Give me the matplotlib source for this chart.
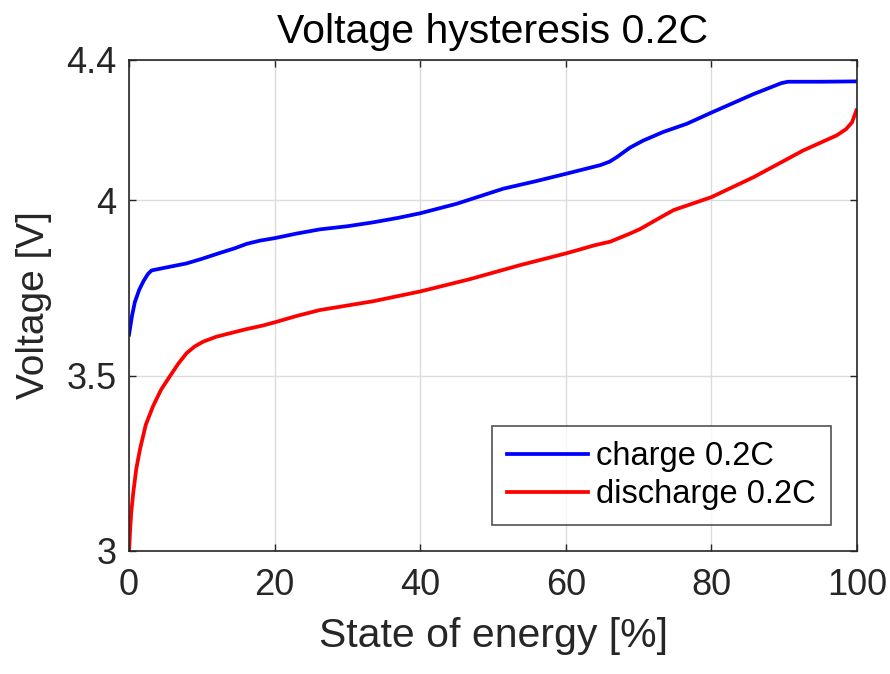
import matplotlib
matplotlib.use("Agg")
import matplotlib.pyplot as plt

plt.rcParams['font.family'] = ['Liberation Sans', 'DejaVu Sans']

soe_charge = [0, 0.4, 0.8, 1.4, 2.0, 2.6, 3.1, 5.0, 7.9, 10.0, 12.5, 14.5, 16.2, 18.0, 20,
              23.0, 26.2, 30.0, 33.5, 37.0, 40, 45, 51.4, 56.0, 60.1, 64.7,
              66.0, 67, 68.8, 70.6, 73.4, 76.6, 80, 85.8, 89.6, 90.5, 95, 100]
v_charge = [3.617, 3.67, 3.71, 3.745, 3.77, 3.79, 3.80, 3.808, 3.82, 3.833, 3.85, 3.863, 3.876,
            3.885, 3.892, 3.905, 3.917, 3.926, 3.937, 3.95, 3.963, 3.99, 4.033, 4.055,
            4.076, 4.10, 4.11, 4.123, 4.150, 4.17, 4.195, 4.218, 4.25, 4.303, 4.334, 4.338,
            4.338, 4.339]

soe_discharge = [0, 0.15, 0.3, 0.6, 1.0, 1.5, 2.3, 3.3, 4.4, 5.6, 6.8, 7.9, 9.0, 10.2, 12.0,
                 13.9, 16.0, 18.4, 20, 23.0, 26.2, 30.0, 33.5, 40, 46.8,
                 53.7, 60.1, 64.0, 66.1, 68.8, 70.2, 72.9, 74.8, 80, 85.8, 92.6, 97.2, 98.5,
                 99.3, 99.9]
v_discharge = [3.0, 3.06, 3.11, 3.17, 3.235, 3.29, 3.36, 3.413, 3.46, 3.498, 3.535, 3.564,
               3.583, 3.597, 3.611, 3.621, 3.632, 3.643, 3.652, 3.67, 3.687, 3.700, 3.712,
               3.74, 3.775, 3.815, 3.849, 3.872, 3.882, 3.905, 3.918, 3.950, 3.972, 4.009,
               4.066, 4.142, 4.185, 4.203, 4.222, 4.256]

xticks = [0, 20, 40, 60, 80, 100]
yticks = [3, 3.5, 4, 4.4]
ytick_labels = ['3', '3.5', '4', '4.4']

fig = plt.figure(figsize=(8.9, 6.74), dpi=100)
ax = fig.add_axes([0.145, 0.1825, 0.818, 0.7285])

ax.plot(soe_charge, v_charge, color='#0000ff', lw=2.7, label='charge 0.2C',
        solid_joinstyle='round')
ax.plot(soe_discharge, v_discharge, color='#ff0000', lw=2.7, label='discharge 0.2C',
        solid_joinstyle='round')

ax.set_xlim(0, 100)
ax.set_ylim(3, 4.4)
ax.set_xticks(xticks)
ax.set_yticks(yticks)
ax.set_yticklabels(ytick_labels)
ax.grid(True, color='#dcdcdc', lw=1)
ax.set_axisbelow(True)
ax.tick_params(direction='in', top=True, right=True, labelsize=26, colors='#262626',
               length=5, width=1)
ax.tick_params(axis='x', pad=12)
ax.tick_params(axis='y', pad=9)
for s in ax.spines.values():
    s.set_color('#262626')
    s.set_linewidth(1.2)

ax.set_title('Voltage hysteresis 0.2C', fontsize=29.5, color='#000000', pad=12)
ax.set_xlabel('State of energy [%]', fontsize=29.5, color='#262626', labelpad=10)
ax.set_ylabel('Voltage [V]', fontsize=28, color='#262626', labelpad=10)

leg = ax.legend(loc='lower right', bbox_to_anchor=(0.964, 0.053), fontsize=23.5,
                frameon=True, fancybox=False, edgecolor='#262626', handlelength=2.5,
                borderpad=0.45, labelspacing=0.22, handletextpad=0.25, borderaxespad=0)
leg.get_frame().set_linewidth(1.2)

fig.savefig('out.png', dpi=100)
